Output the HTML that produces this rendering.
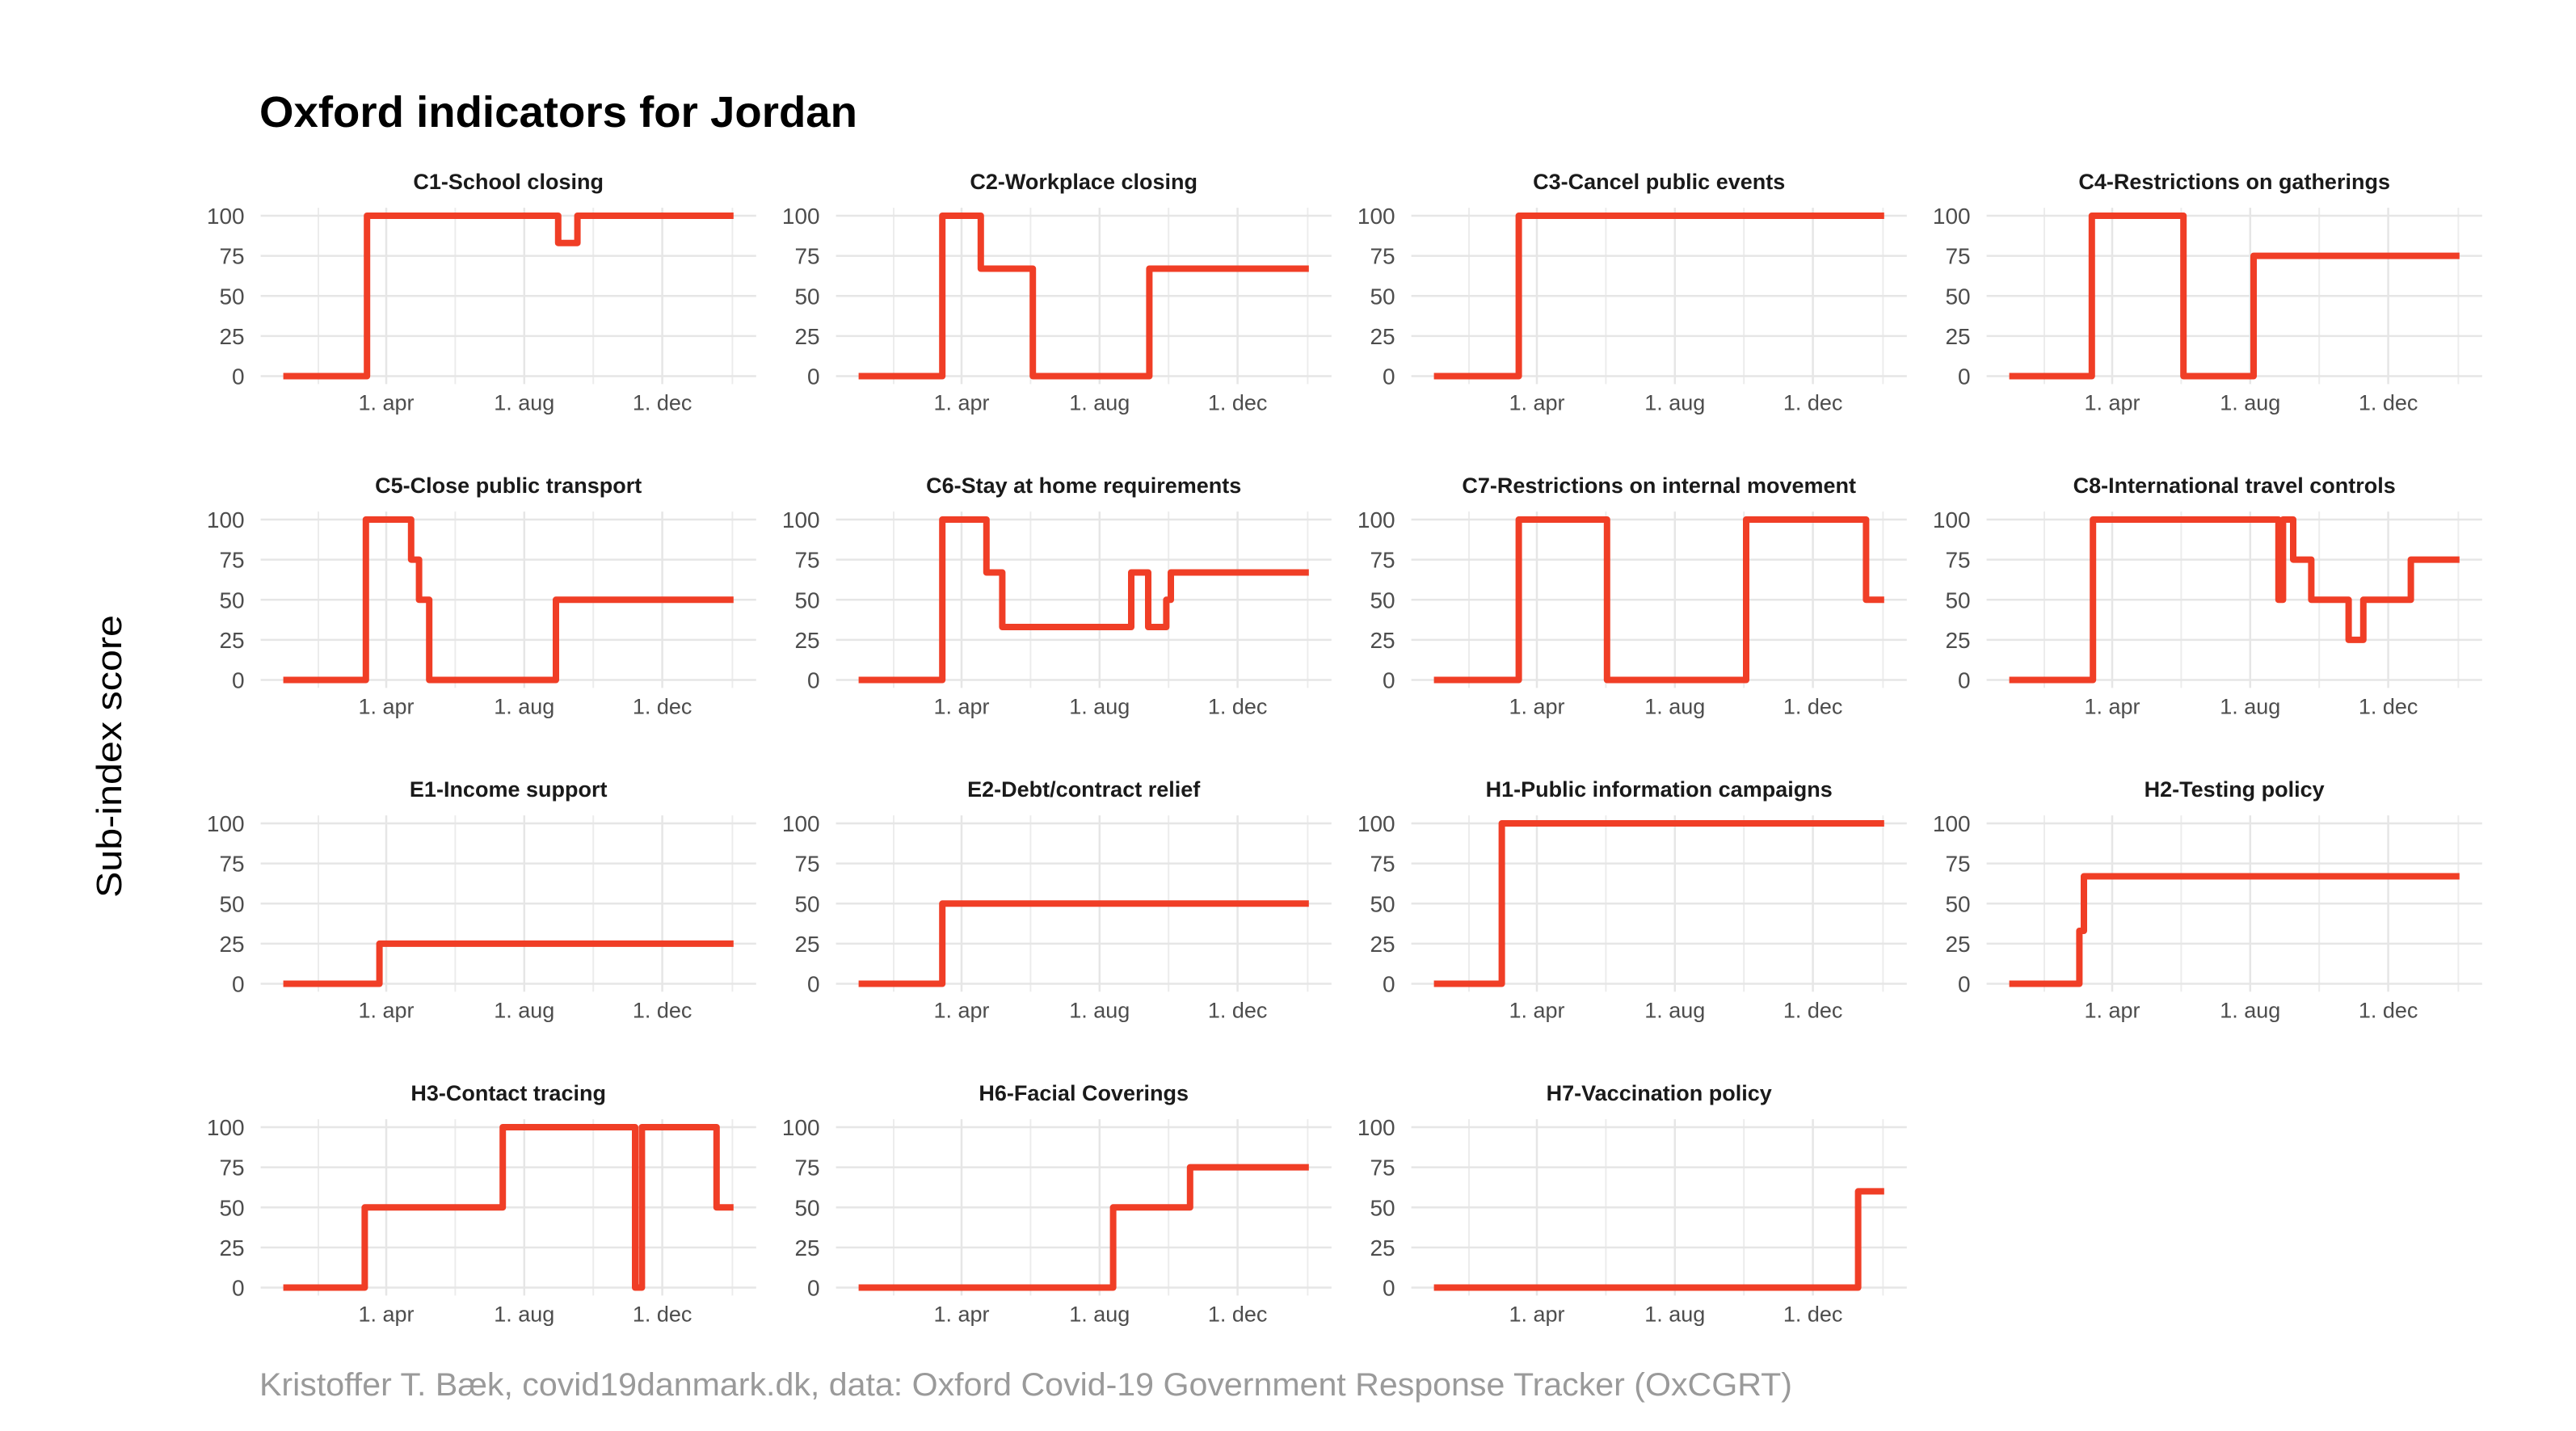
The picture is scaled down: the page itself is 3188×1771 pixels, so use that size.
<!DOCTYPE html>
<html><head><meta charset="utf-8"><title>Oxford indicators for Jordan</title>
<style>
html,body{margin:0;padding:0;background:#fff;}
svg{display:block;font-family:"Liberation Sans",sans-serif;}
</style></head>
<body>
<svg id="chart" width="3188" height="1771" viewBox="0 0 3188 1771" xmlns="http://www.w3.org/2000/svg">
<rect x="0" y="0" width="3188" height="1771" fill="#fff"/>
<text x="321" y="157" font-size="54" font-weight="bold" fill="#000" textLength="740" lengthAdjust="spacingAndGlyphs">Oxford indicators for Jordan</text>
<text x="0" y="0" transform="translate(150,936) rotate(-90)" text-anchor="middle" font-size="44" fill="#000" textLength="350" lengthAdjust="spacingAndGlyphs">Sub-index score</text>
<text x="321" y="1727" font-size="40" fill="#9a9a9a" textLength="1897" lengthAdjust="spacingAndGlyphs">Kristoffer T. Bæk, covid19danmark.dk, data: Oxford Covid-19 Government Response Tracker (OxCGRT)</text>
<g id="panels"></g>
</svg>
<script>
const panelTitles = ["C1-School closing","C2-Workplace closing","C3-Cancel public events","C4-Restrictions on gatherings",
"C5-Close public transport","C6-Stay at home requirements","C7-Restrictions on internal movement","C8-International travel controls",
"E1-Income support","E2-Debt/contract relief","H1-Public information campaigns","H2-Testing policy",
"H3-Contact tracing","H6-Facial Coverings","H7-Vaccination policy"];
const c1Dates = ["2020-01-01","2020-03-15","2020-08-31","2020-09-17"];
const c1Values = [0,100,83,100];
const c2Dates = ["2020-01-01","2020-03-15","2020-04-18","2020-06-03","2020-09-14"];
const c2Values = [0,100,67,0,67];
const c3Dates = ["2020-01-01","2020-03-16"];
const c3Values = [0,100];
const c4Dates = ["2020-01-01","2020-03-14","2020-06-03","2020-08-04"];
const c4Values = [0,100,0,75];
const c5Dates = ["2020-01-01","2020-03-14","2020-04-23","2020-04-30","2020-05-09","2020-08-29"];
const c5Values = [0,100,75,50,0,50];
const c6Dates = ["2020-01-01","2020-03-15","2020-04-23","2020-05-07","2020-08-29","2020-09-13","2020-09-29","2020-10-03"];
const c6Values = [0,100,67,33,67,33,50,67];
const c7Dates = ["2020-01-01","2020-03-16","2020-06-02","2020-10-03","2021-01-17"];
const c7Values = [0,100,0,100,50];
const c8Dates = ["2020-01-01","2020-03-15","2020-08-26","2020-08-30","2020-09-08","2020-09-24","2020-10-27","2020-11-09","2020-12-21"];
const c8Values = [0,100,50,100,75,50,25,50,75];
const e1Dates = ["2020-01-01","2020-03-26"];
const e1Values = [0,25];
const e2Dates = ["2020-01-01","2020-03-15"];
const e2Values = [0,50];
const h1Dates = ["2020-01-01","2020-03-01"];
const h1Values = [0,100];
const h2Dates = ["2020-01-01","2020-03-03","2020-03-07"];
const h2Values = [0,33,67];
const h3Dates = ["2020-01-01","2020-03-13","2020-07-13","2020-11-07","2020-11-13","2021-01-18"];
const h3Values = [0,50,100,0,100,50];
const h6Dates = ["2020-01-01","2020-08-13","2020-10-20"];
const h6Values = [0,50,75];
const h7Dates = ["2020-01-01","2021-01-10"];
const h7Values = [0,60];
const endDate = "2021-02-02";
const yTicks = [0,25,50,75,100];
const xTickLabels = ["1. apr","1. aug","1. dec"];
const xTickDates = ["2020-04-01","2020-08-01","2020-12-01"];
const xMinorDates = ["2020-02-01","2020-06-01","2020-10-01","2021-02-01"];

const seriesDates = [c1Dates,c2Dates,c3Dates,c4Dates,c5Dates,c6Dates,c7Dates,c8Dates,e1Dates,e2Dates,h1Dates,h2Dates,h3Dates,h6Dates,h7Dates];
const seriesValues = [c1Values,c2Values,c3Values,c4Values,c5Values,c6Values,c7Values,c8Values,e1Values,e2Values,h1Values,h2Values,h3Values,h6Values,h7Values];

const NS = "http://www.w3.org/2000/svg";
const root = document.getElementById("panels");
const APR1 = Date.UTC(2020,3,1);
function dayOf(s){const p=s.split("-");return (Date.UTC(+p[0],+p[1]-1,+p[2])-APR1)/86400000;}
function mk(tag, attrs, parent){const e=document.createElementNS(NS,tag);for(const k in attrs)e.setAttribute(k,attrs[k]);parent.appendChild(e);return e;}
const COLW=712, ROWH=376;

panelTitles.forEach((title,i)=>{
  const c=i%4, r=Math.floor(i/4);
  const ox=c*COLW, oy=r*ROWH;
  const xS = d => 478 + ox + 1.40*dayOf(d);
  const yS = v => 465.5 + oy - 1.985*v;
  const left=xS("2020-01-01")-28, right=xS(endDate)+28, top=yS(105), bot=yS(-5);
  const g=mk("g",{},root);
  
  
  xMinorDates.forEach(d=>{
    const l=mk("line",{x1:xS(d),x2:xS(d),y1:top,y2:bot,stroke:"#ececec","stroke-width":2},g);
    
    
  });
  xTickDates.forEach((d,k)=>{
    const l=mk("line",{x1:xS(d),x2:xS(d),y1:top,y2:bot,stroke:"#e6e6e6","stroke-width":2.5},g);
    
    
    const t=mk("text",{x:xS(d),y:yS(0)+42,"text-anchor":"middle","font-size":27,fill:"#4d4d4d"},g);
    t.textContent=xTickLabels[k];
    
    
  });
  yTicks.forEach(v=>{
    const l=mk("line",{x1:left,x2:right,y1:yS(v),y2:yS(v),stroke:"#e6e6e6","stroke-width":2.5},g);
    
    
    const t=mk("text",{x:left-20,y:yS(v)+10,"text-anchor":"end","font-size":28,fill:"#4d4d4d"},g);
    t.textContent=String(v);
    
    
  });
  const st=mk("text",{x:(left+right)/2,y:234+oy,"text-anchor":"middle","font-size":27,"font-weight":"bold",fill:"#1a1a1a"},g);
  st.textContent=title;
  
  
  const ds=seriesDates[i], vs=seriesValues[i];
  let d="";
  for(let k=0;k<ds.length;k++){
    const x0=xS(ds[k]), x1=xS(k+1<ds.length?ds[k+1]:endDate), y=yS(vs[k]);
    d += (k===0?"M":"L")+x0.toFixed(1)+","+y.toFixed(1)+" L"+x1.toFixed(1)+","+y.toFixed(1)+" ";
  }
  const p=mk("path",{d:d,fill:"none",stroke:"#f03e26","stroke-width":8,"stroke-linejoin":"round","stroke-linecap":"butt"},g);
  
  
});
</script>
</body></html>
